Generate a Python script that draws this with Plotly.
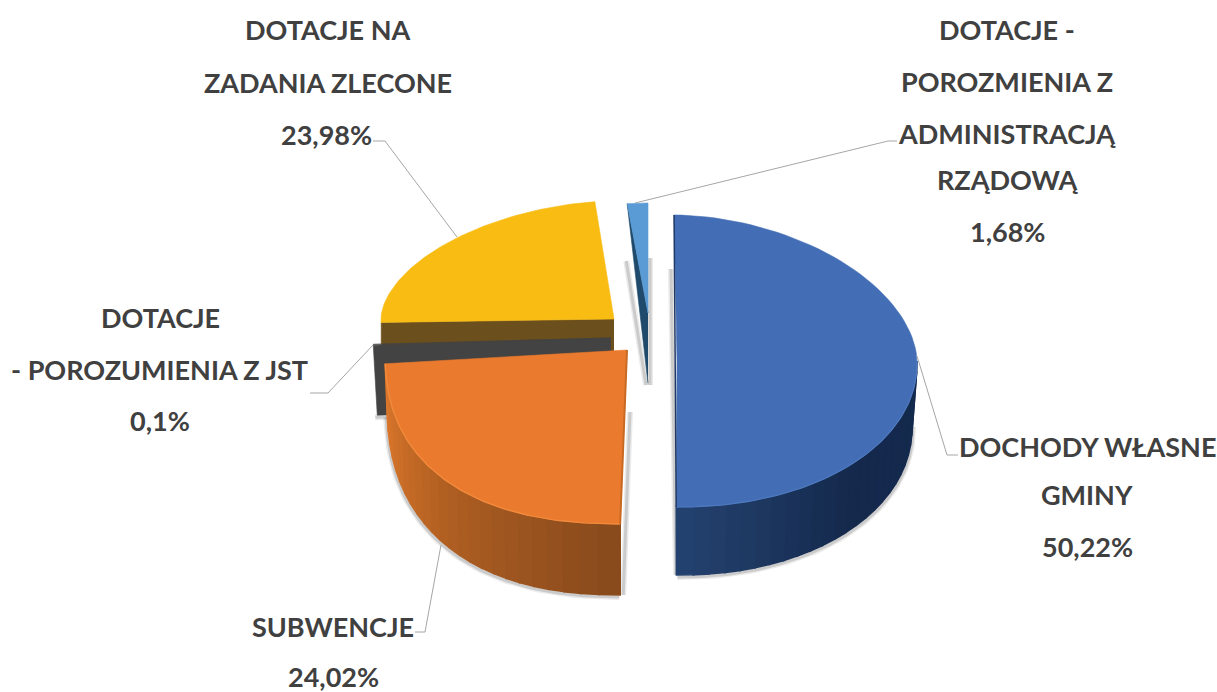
import math
import plotly.graph_objects as go

# ---- data ----
categories = ["DOCHODY WŁASNE GMINY", "SUBWENCJE", "DOTACJE - POROZUMIENIA Z JST",
              "DOTACJE NA ZADANIA ZLECONE", "DOTACJE - POROZUMIENIA Z ADMINISTRACJĄ RZĄDOWĄ"]
values = [50.22, 24.02, 0.1, 23.98, 1.68]
value_labels = ["50,22%", "24,02%", "0,1%", "23,98%", "1,68%"]
label_lines = [["DOCHODY WŁASNE", "GMINY"], ["SUBWENCJE"], ["DOTACJE", "- POROZUMIENIA Z JST"],
               ["DOTACJE NA", "ZADANIA ZLECONE"], ["DOTACJE -", "POROZMIENIA Z", "ADMINISTRACJĄ", "RZĄDOWĄ"]]

# ---- drawing style: projection of each exploded slice, colours, label places ----
top_face = {
    0: dict(cx=677, cy=361, a=240, b=146, pu=1.85, pl=2.05, k=0.02),
    1: dict(cx=627, cy=350, a=242, b=174, pu=2.4, pl=2.4, k=0.0),
    2: dict(cx=611, cy=338, a=238, b=150, pu=2.0, pl=2.0, k=0.0),
    3: dict(cx=614, cy=319, a=233, b=118, pu=1.8, pl=1.8, k=0.0),
    4: dict(cx=648, cy=313, a=253, b=110, pu=1.8, pl=1.8, k=0.0),
}
low_face = {
    0: dict(cx=677, cy=425, a=235, b=150, pu=2.05, pl=2.05, k=0.02),
    1: dict(cx=627, cy=400, a=240, b=195, pu=2.4, pl=2.4, k=0.0),
    2: dict(cx=611, cy=408, a=234, b=150, pu=2.0, pl=2.0, k=0.0),
    3: dict(cx=614, cy=364, a=233, b=118, pu=1.8, pl=1.8, k=0.0),
    4: dict(cx=648, cy=383, a=253, b=180, pu=1.8, pl=1.8, k=0.0),
}
top_colors = ["#436eb5", "#ea7a2e", "#434343", "#f8bc13", "#5a9bd5"]
rim_colors = ["#4f7ac0", "#f28a3c", None, None, None]
side_stops = {0: ("#142a4e", "#14294c", "#24426f"), 1: ("#e07a2d", "#b05f22", "#884a1c")}
cut_colors = {2: "#434343", 3: "#6b4f1c", 4: "#1f4a6b"}
text_color = "#404040"
font_family = "Lato"
font_size = 27
label_places = {
    0: [(1087, 446), (1087, 494), (1087, 546)],
    1: [(333, 626), (333, 676)],
    2: [(160, 317), (159, 369), (160, 420)],
    3: [(328, 29), (328, 82), (326, 134)],
    4: [(1007, 29), (1007, 81), (1007, 133), (1007, 179), (1007, 231)],
}
leaders = {
    0: [(917, 356), (947, 455), (958, 455)],
    1: [(441, 545), (425, 632), (415, 632)],
    2: [(373, 345), (328, 393), (310, 393)],
    3: [(457, 237), (385, 141), (373, 141)],
    4: [(635, 203), (888, 141), (897, 141)],
}


def point(f, deg):
    t = math.radians(deg)
    s, c = math.sin(t), math.cos(t)
    p = f["pu"] if c > 0 else f["pl"]
    u = math.copysign(abs(s) ** (2 / p), s)
    v = math.copysign(abs(c) ** (2 / p), c)
    y = f["cy"] - f["b"] * v
    return f["cx"] + f["a"] * u + f["k"] * (y - f["cy"]), y


def arc(f, d0, d1, n=80):
    pts = [point(f, d0 + (d1 - d0) * i / n) for i in range(n + 1)]
    return [q[0] for q in pts], [q[1] for q in pts]


def mix(c0, c1, w):
    a = [int(c0[i:i + 2], 16) for i in (1, 3, 5)]
    b = [int(c1[i:i + 2], 16) for i in (1, 3, 5)]
    return "#%02x%02x%02x" % tuple(round(a[i] + (b[i] - a[i]) * w) for i in range(3))


# angles from the values (clockwise from the top)
total = sum(values)
spans = {}
run = 0.0
for i, val in enumerate(values):
    spans[i] = (run / total * 360, (run + val) / total * 360)
    run += val

fig = go.Figure()


def poly(xs, ys, color, lw=0.6):
    fig.add_trace(go.Scatter(x=xs, y=ys, mode="lines", fill="toself", fillcolor=color,
                             line=dict(color=color, width=lw), hoverinfo="skip", showlegend=False))


def stroke(xs, ys, color, w):
    fig.add_trace(go.Scatter(x=xs, y=ys, mode="lines", line=dict(color=color, width=w),
                             hoverinfo="skip", showlegend=False))


def shadow(xs, ys):
    stroke(xs, ys, "rgba(60,60,60,0.10)", 6)
    stroke(xs, ys, "rgba(60,60,60,0.18)", 3)


def cut_face(i, deg):
    ft, fl = top_face[i], low_face[i]
    r0, r1 = point(ft, deg), point(fl, deg)
    poly([ft["cx"], r0[0], r1[0], fl["cx"]], [ft["cy"], r0[1], r1[1], fl["cy"]], cut_colors[i])


def side(i, d0, d1, n=24):
    ft, fl = top_face[i], low_face[i]
    c0, c1, c2 = side_stops[i]
    for j in range(n):
        a0 = d0 + (d1 - d0) * j / n
        a1 = d0 + (d1 - d0) * (j + 1) / n
        w = (j + 0.5) / n
        col = mix(c0, c1, w * 2) if w < 0.5 else mix(c1, c2, w * 2 - 1)
        p0, p1, q1, q0 = point(ft, a0), point(ft, a1), point(fl, a1), point(fl, a0)
        poly([p0[0], p1[0], q1[0], q0[0], p0[0]], [p0[1], p1[1], q1[1], q0[1], p0[1]], col, lw=1.6)


def top(i):
    f = top_face[i]
    xs, ys = arc(f, *spans[i])
    poly([f["cx"]] + xs + [f["cx"]], [f["cy"]] + ys + [f["cy"]], top_colors[i])


# ---- yellow
i = 3
cut_face(i, spans[i][0])
top(i)

# ---- dark slice
i = 2
r = point(low_face[i], spans[i][0])
shadow([r[0] - 2, r[0] + 10], [r[1] + 2, r[1] + 2])
cut_face(i, spans[i][0])
top(i)

# ---- orange
i = 1
d0, d1 = spans[i]
lx, ly = arc(low_face[i], d0, d1)
shadow([x - 1 for x in lx], [y + 2 for y in ly])
e = point(low_face[i], d0)
shadow([top_face[i]["cx"] + 3, e[0] + 3], [top_face[i]["cy"] + 62, e[1]])
side(i, d1, d0)
top(i)
rx, ry = arc(top_face[i], d0, d1)
stroke(rx, ry, rim_colors[i], 1.4)
b0 = point(top_face[i], d0)
stroke([top_face[i]["cx"], b0[0]], [top_face[i]["cy"], b0[1]], "#c96a24", 2)

# ---- light blue
i = 4
d0, d1 = spans[i]
ft, fl = top_face[i], low_face[i]
r0 = point(ft, d0)
shadow([r0[0] - 1, fl["cx"] - 2], [ft["cy"] - 52, fl["cy"] + 2])
shadow([fl["cx"] + 2, fl["cx"] + 2], [ft["cy"] - 55, fl["cy"] + 2])
cut_face(i, d0)
top(i)

# ---- blue
i = 0
d0, d1 = spans[i]
ft, fl = top_face[i], low_face[i]
lx, ly = arc(fl, 90, d1)
shadow([x + 1 for x in lx], [y + 2 for y in ly])
shadow([ft["cx"] - 6, ft["cx"] - 1], [ft["cy"] - 92, fl["cy"] + fl["b"]])
side(i, 90, d1)
top(i)
rx, ry = arc(ft, 90, d1)
stroke(rx, ry, rim_colors[i], 1.2)
q0, q1 = point(ft, d0), point(ft, d1)
stroke([q0[0], q1[0]], [q0[1], q1[1]], "#1f3864", 1.5)

# ---- leader lines
for i, pts in leaders.items():
    stroke([q[0] for q in pts], [q[1] for q in pts], "#a6a6a6", 1)

# ---- labels
annotations = []
for i in range(len(categories)):
    lines = label_lines[i] + [value_labels[i]]
    for text, (x, y) in zip(lines, label_places[i]):
        annotations.append(dict(x=x, y=y, xref="x", yref="y", text="<b>%s</b>" % text, showarrow=False,
                                xanchor="center", yanchor="middle",
                                font=dict(family=font_family, size=font_size, color=text_color)))

fig.update_layout(width=1217, height=692, margin=dict(l=0, r=0, t=0, b=0),
                  paper_bgcolor="white", plot_bgcolor="white", showlegend=False,
                  annotations=annotations,
                  xaxis=dict(range=[0, 1217], visible=False, fixedrange=True),
                  yaxis=dict(range=[692, 0], visible=False, fixedrange=True))

fig.write_html("out.html", config=dict(displayModeBar=False),
               post_script="document.body.style.margin='0';document.body.style.overflow='hidden';")
